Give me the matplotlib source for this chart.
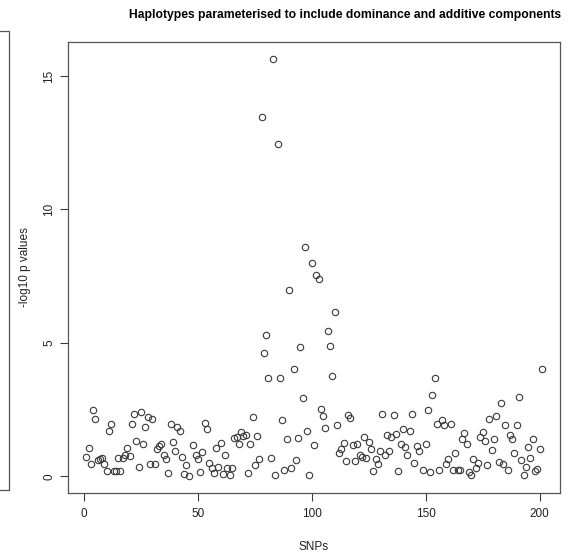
import numpy as np
import matplotlib
matplotlib.use("Agg")
import matplotlib.pyplot as plt
from matplotlib.lines import Line2D

plt.rcParams['font.family'] = ['Liberation Sans', 'DejaVu Sans']

title = "Haplotypes parameterised to include dominance and additive components"
x_label = "SNPs"
y_label = "-log10 p values"
x_ticks = [0, 50, 100, 150, 200]
y_ticks = [0, 5, 10, 15]

# -log10 p for each SNP index 1..201 (nan = no test)
neglog_p = [
    0.71, 1.05, 0.45, 2.48, 2.15, 0.60, 0.65, 0.70, 0.45, 0.22,
    1.70, 1.95, 0.22, 0.22, 0.68, 0.22, 0.70, 0.80, 1.08, 0.75,
    1.98, 2.32, 1.32, 0.35, 2.42, 1.22, 1.86, 2.22, 0.45, 2.15,
    0.45, 1.01, 1.14, 1.20, 0.82, 0.67, 0.14, 1.97, 1.30, 0.95,
    1.85, 1.72, 0.74, 0.11, 0.42, 0.01, np.nan, 1.16, 0.80, 0.64,
    0.17, 0.92, 2.01, 1.76, 0.49, 0.32, 0.14, 1.05, 0.35, 1.26,
    0.11, 0.80, 0.30, 0.07, 0.30, 1.45, 1.47, 1.20, 1.67, 1.51,
    1.57, 0.14, 1.22, 2.22, 0.41, 1.51, 0.64, 13.46, 4.63, 5.28,
    3.70, 0.70, 15.64, 0.05, 12.45, 3.70, 2.11, 0.24, 1.41, 7.00,
    0.30, 4.04, 0.60, 1.43, 4.84, 2.95, 8.59, 1.72, 0.07, 8.00,
    1.17, 7.53, 7.38, 2.51, 2.28, 1.82, 5.43, 4.88, 3.76, 6.14,
    1.92, 0.86, 1.01, 1.26, 0.57, 2.30, 2.20, 1.17, 0.57, 1.22,
    0.80, 0.72, 1.47, 0.70, 1.30, 1.01, 0.20, 0.67, 0.47, 0.97,
    2.35, 0.80, 1.55, 0.97, 1.47, 2.30, 1.60, 0.20, 1.20, 1.76,
    1.10, 0.80, 1.70, 2.35, 0.51, 1.14, 0.97, np.nan, 0.26, 1.22,
    2.47, 0.17, 3.05, 3.70, 1.95, 0.24, 2.10, 1.91, 0.45, 0.64,
    1.98, 0.24, 0.86, 0.26, 0.26, 1.39, 1.61, 1.20, 0.16, 0.07,
    0.64, 0.32, 0.49, 1.49, 1.66, 1.32, 0.41, 2.16, 0.99, 1.41,
    2.28, 0.54, 2.76, 0.47, 1.91, 0.24, 1.54, 1.39, 0.86, 1.92,
    2.98, 0.61, 0.07, 0.36, 1.11, 0.70, 1.39, 0.20, 0.29, 1.01,
    4.03,
]
snp = np.arange(1, len(neglog_p) + 1)

fig = plt.figure(figsize=(5.68, 5.56), dpi=100)
ax = fig.add_axes([68 / 568, 1 - 493 / 556, (560 - 68) / 568, (493 - 42) / 556])

ink = "#3a3a3a"
ax.plot(snp, neglog_p, linestyle="none", marker="o", markersize=4.6,
        markerfacecolor="none", markeredgecolor=ink, markeredgewidth=0.8)

ax.set_xlim(-7, 209)
ax.set_ylim(-0.62, 16.27)
ax.set_xticks(x_ticks)
ax.set_yticks(y_ticks)
ax.set_yticklabels([str(t) for t in y_ticks], rotation=90, va="center")
ax.tick_params(direction="out", length=6, width=0.8, color=ink,
               labelsize=8.5, labelcolor="#222222", pad=5)
ax.tick_params(axis="y", pad=3)
for side in ax.spines.values():
    side.set_color("#555555")
    side.set_linewidth(0.9)

ax.set_xlabel(x_label, fontsize=8.5, color="#222222")
ax.set_ylabel(y_label, fontsize=8.5, color="#222222")
ax.xaxis.set_label_coords(0.5, -0.106)
ax.yaxis.set_label_coords(-0.075, 0.5)

fig.text(345 / 568, 1 - 15 / 556, title, ha="center", va="center",
         fontsize=8.7, fontweight="bold")

# edge of the neighbouring panel's frame
fig.add_artist(Line2D([0, 9 / 568, 9 / 568, 0],
                      [1 - 31 / 556, 1 - 31 / 556, 1 - 490 / 556, 1 - 490 / 556],
                      color="#555555", linewidth=0.9))

fig.savefig("out.png", dpi=100)
